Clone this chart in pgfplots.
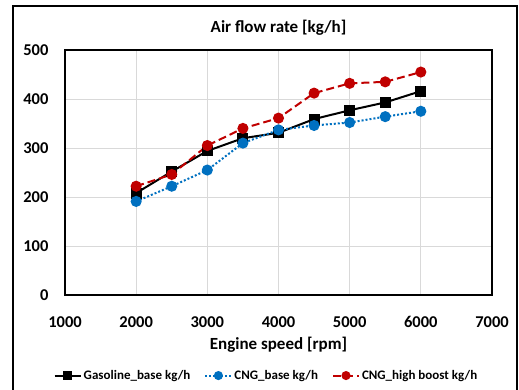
\documentclass[border=0pt]{standalone}
\usepackage{pgfplots}
\pgfplotsset{compat=1.18}
\usepackage{fontspec}
\setmainfont{Carlito}[BoldFont={Carlito Bold}]
\definecolor{cngblue}{RGB}{0,112,192}
\definecolor{cngred}{RGB}{192,0,0}
\definecolor{gridgray}{RGB}{217,217,217}
\begin{document}
\begin{tikzpicture}[x=1pt,y=1pt]
\useasboundingbox (0,0) rectangle (519,389);
\begin{scope}
\clip (0,0) rectangle (519,389);
\draw[line width=2.5pt] (13,-10) rectangle (517,383);
\end{scope}
\begin{axis}[
  at={(65pt,94pt)}, anchor=south west,
  scale only axis, width=427pt, height=245pt,
  xmin=1000, xmax=7000, ymin=0, ymax=500,
  xtick={1000,2000,...,7000}, ytick={0,100,...,500},
  grid=major, major grid style={gridgray, line width=0.8pt},
  axis line style={black, line width=1.5pt},
  tick style={draw=none},
  /pgf/number format/assume math mode=true,
  /pgf/number format/1000 sep={},
  tick label style={font=\fontsize{16.5}{18}\selectfont\bfseries},
  yticklabel style={xshift=-13pt},
  xticklabel style={yshift=-18pt},
  xlabel={Engine speed [rpm]},
  xlabel style={font=\fontsize{17}{19}\selectfont\bfseries, yshift=-2pt},
  title={Air flow rate [kg/h]},
  title style={font=\fontsize{17}{19}\selectfont\bfseries, yshift=5pt},
  legend style={at={(0.5,-0.29)}, anchor=north, xshift=-12pt, draw=none, fill=none,
    legend columns=3, font=\fontsize{13}{15}\selectfont\bfseries,
    /tikz/every even column/.append style={column sep=12pt}},
  legend cell align=left,
  legend image code/.code={\draw[mark repeat=2,mark phase=2,#1,mark size=3.5pt] plot coordinates {(0pt,0pt) (13pt,0pt) (26pt,0pt)};},
]
\addplot[black, line width=2pt, mark=square*, mark size=4.5pt, mark options={solid}]
  coordinates {(2000,208) (2500,252) (3000,294) (3500,320) (4000,331) (4500,359) (5000,377) (5500,393) (6000,416)};
\addlegendentry{Gasoline\_base kg/h}
\addplot[cngblue, line width=2pt, dotted, mark=*, mark size=4.5pt, mark options={solid}]
  coordinates {(2000,191) (2500,222) (3000,255) (3500,310) (4000,337) (4500,346) (5000,352) (5500,364) (6000,375)};
\addlegendentry{CNG\_base kg/h}
\addplot[cngred, line width=2pt, dash pattern=on 8pt off 4pt, mark=*, mark size=4.5pt, mark options={solid}]
  coordinates {(2000,222) (2500,246) (3000,305) (3500,340) (4000,361) (4500,412) (5000,432) (5500,435) (6000,455)};
\addlegendentry{CNG\_high boost kg/h}
\end{axis}
\end{tikzpicture}
\end{document}
